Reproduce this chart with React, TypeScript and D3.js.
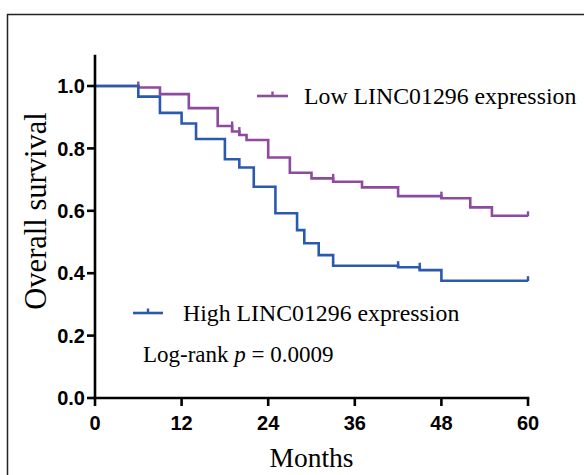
import React from "react";
import * as d3 from "d3";

const lowTimes = [0, 6, 9, 13, 17, 19, 20, 21, 24, 27, 30, 33, 37, 42, 48, 52, 55, 60];
const lowSurv = [1.0, 0.995, 0.974, 0.929, 0.872, 0.854, 0.843, 0.827, 0.771, 0.722, 0.704, 0.693, 0.675, 0.647, 0.64, 0.611, 0.584, 0.584];
const lowCensor = [6, 19, 20, 33, 48, 60];

const highTimes = [0, 6, 9, 12, 14, 18, 20, 22, 25, 28, 29, 31, 33, 42, 45, 48, 60];
const highSurv = [1.0, 0.966, 0.914, 0.88, 0.83, 0.765, 0.739, 0.677, 0.592, 0.538, 0.496, 0.458, 0.424, 0.419, 0.41, 0.376, 0.376];
const highCensor = [42, 45, 60];

const xTicks = [0, 12, 24, 36, 48, 60];
const yTicks = [0, 0.2, 0.4, 0.6, 0.8, 1.0];

const LOW_COLOR = "#8d4b9f";
const HIGH_COLOR = "#2a5aad";

const W = 584;
const H = 475;

export default function App() {
  const x = d3.scaleLinear().domain([0, 60]).range([95, 528]);
  const y = d3.scaleLinear().domain([0, 1.1]).range([398, 54.8]);

  const line = d3
    .line<[number, number]>()
    .x((d) => x(d[0]))
    .y((d) => y(d[1]))
    .curve(d3.curveStepAfter);

  const mk = (t: number[], s: number[]) => t.map((v, i) => [v, s[i]] as [number, number]);
  const lowData = mk(lowTimes, lowSurv);
  const highData = mk(highTimes, highSurv);

  const censorTicks = (t: number[], s: number[], cens: number[]) =>
    cens.map((c) => {
      let before = s[0];
      let at = s[0];
      for (let i = 0; i < t.length; i++) {
        if (t[i] < c) before = s[i];
        if (t[i] <= c) at = s[i];
      }
      const top = y(Math.max(before, at)) - 4.5;
      const bot = y(Math.min(before, at)) + 0.5;
      return { cx: x(c), top, bot };
    });

  const lowCens = censorTicks(lowTimes, lowSurv, lowCensor);
  const highCens = censorTicks(highTimes, highSurv, highCensor);

  const serif = "'Liberation Serif', 'Times New Roman', serif";
  const sans = "'Liberation Sans', Arial, sans-serif";

  return (
    <svg
      width={W}
      height={H}
      style={{ position: "absolute", left: 0, top: 0, background: "#fff" }}
    >
      <rect x={0} y={0} width={W} height={H} fill="#fff" />
      <rect x={7.5} y={14.5} width={700} height={600} fill="none" stroke="#222" strokeWidth={1.5} />

      {/* curves */}
      <path d={line(lowData) || ""} fill="none" stroke={LOW_COLOR} strokeWidth={2.6} />
      {lowCens.map((c, i) => (
        <line key={"lc" + i} x1={c.cx} x2={c.cx} y1={c.top} y2={c.bot} stroke={LOW_COLOR} strokeWidth={2.4} />
      ))}
      <path d={line(highData) || ""} fill="none" stroke={HIGH_COLOR} strokeWidth={2.6} />
      {highCens.map((c, i) => (
        <line key={"hc" + i} x1={c.cx} x2={c.cx} y1={c.top} y2={c.bot} stroke={HIGH_COLOR} strokeWidth={2.4} />
      ))}

      {/* axes */}
      <line x1={x(0)} x2={x(0)} y1={y(1.1)} y2={y(0) + 1.3} stroke="#000" strokeWidth={2.6} />
      <line x1={x(0) - 1.3} x2={x(60) + 1.3} y1={y(0)} y2={y(0)} stroke="#000" strokeWidth={2.6} />
      {yTicks.map((t) => (
        <g key={"yt" + t}>
          <line x1={x(0) - 8} x2={x(0)} y1={y(t)} y2={y(t)} stroke="#000" strokeWidth={2.6} />
          <text
            x={x(0) - 10}
            y={y(t)}
            dy="0.36em"
            textAnchor="end"
            fontFamily={sans}
            fontWeight="bold"
            fontSize={20}
            fill="#000"
          >
            {t.toFixed(1)}
          </text>
        </g>
      ))}
      {xTicks.map((t) => (
        <g key={"xt" + t}>
          <line x1={x(t)} x2={x(t)} y1={y(0)} y2={y(0) + 8} stroke="#000" strokeWidth={2.6} />
          <text
            x={x(t)}
            y={y(0) + 32}
            textAnchor="middle"
            fontFamily={sans}
            fontWeight="bold"
            fontSize={20}
            fill="#000"
          >
            {t}
          </text>
        </g>
      ))}

      {/* axis titles */}
      <text
        transform={`translate(46, 211) rotate(-90)`}
        textAnchor="middle"
        fontFamily={serif}
        fontSize={30.5}
        fill="#000"
      >
        Overall survival
      </text>
      <text x={x(30)} y={467} textAnchor="middle" fontFamily={serif} fontSize={27.5} fill="#000">
        Months
      </text>

      {/* legend */}
      <line x1={257} x2={288} y1={96} y2={96} stroke={LOW_COLOR} strokeWidth={2.6} />
      <line x1={272.5} x2={272.5} y1={91.5} y2={96} stroke={LOW_COLOR} strokeWidth={2.4} />
      <text x={304} y={96} dy="0.33em" fontFamily={serif} fontSize={23.8} fill="#000">
        Low LINC01296 expression
      </text>

      <line x1={133} x2={163} y1={313} y2={313} stroke={HIGH_COLOR} strokeWidth={2.6} />
      <line x1={148} x2={148} y1={308.5} y2={313} stroke={HIGH_COLOR} strokeWidth={2.4} />
      <text x={183} y={313} dy="0.33em" fontFamily={serif} fontSize={23.8} fill="#000">
        High LINC01296 expression
      </text>

      <text x={143} y={354} dy="0.33em" fontFamily={serif} fontSize={23} fill="#000">
        Log-rank <tspan fontStyle="italic">p</tspan> = 0.0009
      </text>
    </svg>
  );
}
